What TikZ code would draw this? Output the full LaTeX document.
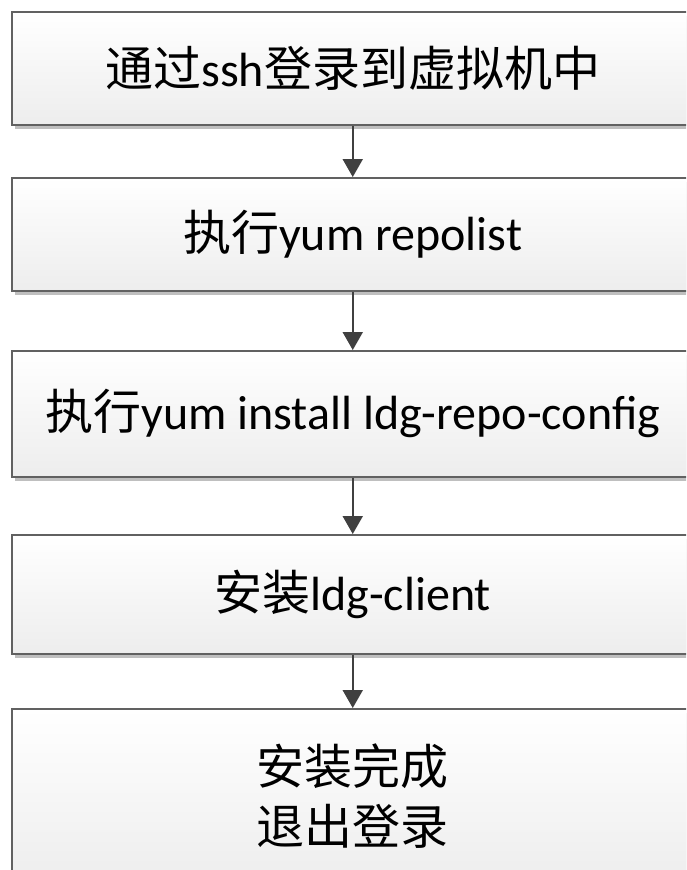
\documentclass[tikz,border=0pt]{standalone}
\usepackage{fontspec}
\setmainfont{Carlito}
\newfontfamily\cjk{Noto Sans CJK SC}
\usetikzlibrary{arrows.meta,shadows}
\tikzset{
  stepbox/.style={
    draw=black!62, line width=1.5pt,
    top color=white, bottom color=black!7,
    minimum width=682pt, anchor=north west,
    inner sep=0pt, align=center,
    font=\fontsize{48}{60}\selectfont,
    drop shadow={shadow xshift=3pt, shadow yshift=-4pt, fill=black!25, opacity=1}
  },
  flow/.style={draw=black!75, line width=2pt,
    -{Triangle[width=20pt,length=18pt]}, fill=black!75}
}
\begin{document}
\begin{tikzpicture}[x=1pt,y=-1pt]
  \useasboundingbox (0,0) rectangle (686,870);
  \clip (0,0) rectangle (686,870);
  \node[stepbox, minimum height=113pt] (b1) at (11,11)
    {{\cjk 通过}ssh{\cjk 登录到虚拟机中}};
  \node[stepbox, minimum height=113pt] (b2) at (11,177)
    {{\cjk 执行}yum repolist};
  \node[stepbox, minimum height=126pt] (b3) at (11,350)
    {{\cjk 执行}yum install ldg-repo-config};
  \node[stepbox, minimum height=119pt] (b4) at (11,534)
    {{\cjk 安装}ldg-client};
  \node[stepbox, minimum height=175pt] (b5) at (11,708)
    {{\cjk 安装完成}\\{\cjk 退出登录}};
  \draw[flow] (b1.south) -- (b2.north);
  \draw[flow] (b2.south) -- (b3.north);
  \draw[flow] (b3.south) -- (b4.north);
  \draw[flow] (b4.south) -- (b5.north);
\end{tikzpicture}
\end{document}
